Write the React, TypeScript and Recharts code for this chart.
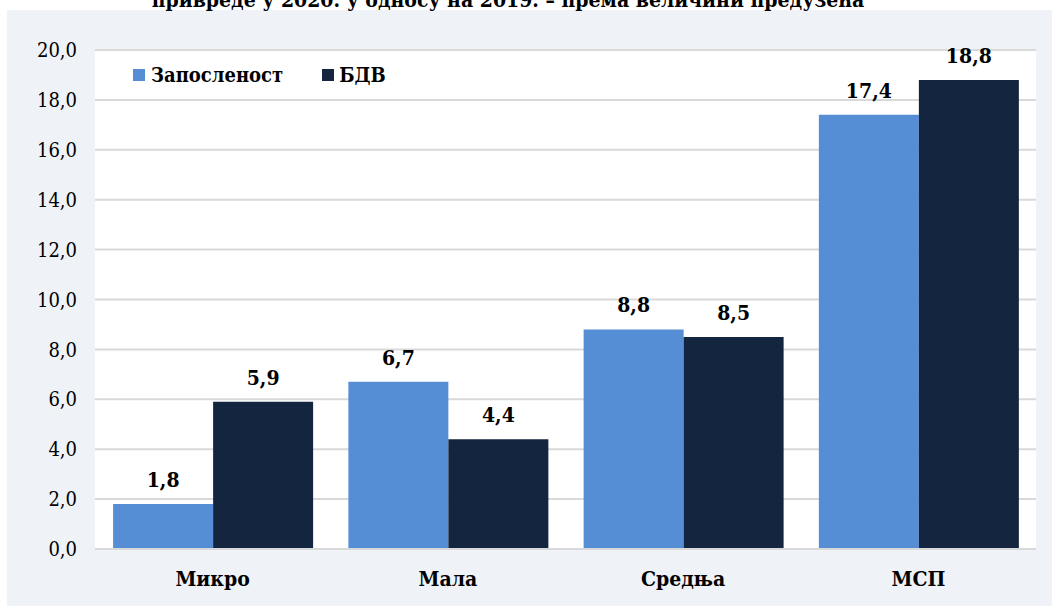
import React from 'react';
import { BarChart, Bar, XAxis, YAxis, CartesianGrid, LabelList } from 'recharts';

const categories = ['Микро', 'Мала', 'Средња', 'МСП'];
const zaposlenost = [1.8, 6.7, 8.8, 17.4];
const bdv = [5.9, 4.4, 8.5, 18.8];
const yTicks = [0, 2, 4, 6, 8, 10, 12, 14, 16, 18, 20];
const seriesNames = ['Запосленост', 'БДВ'];
const titleText = 'привреде у 2020. у односу на 2019. – према величини предузећа';

const data = categories.map((c, i) => ({ name: c, z: zaposlenost[i], b: bdv[i] }));

const BLUE = '#558ED5';
const NAVY = '#13253F';
const FONT = "'DejaVu Serif Condensed', 'DejaVu Serif', serif";

const fmt = (v: number) => v.toFixed(1).replace('.', ',');

export default function App() {
  return (
    <div style={{ position: 'absolute', left: 0, top: 0, width: 1052, height: 606, background: '#fff', overflow: 'hidden', fontFamily: FONT }}>
      <div style={{ position: 'absolute', left: 7, top: 10, width: 1045, height: 596, background: '#EFF3F8' }} />
      <div style={{ position: 'absolute', left: 0, top: 0 }}>
        <BarChart
          width={1052}
          height={606}
          data={data}
          margin={{ top: 50, right: 16, bottom: 17, left: 10 }}
          barCategoryGap="7.7%"
          barGap={0}
          style={{ fontFamily: FONT }}
        >
          <CartesianGrid vertical={false} stroke="#D9D9D9" strokeWidth={2} fill="#FFFFFF" fillOpacity={1} />
          <XAxis
            dataKey="name"
            axisLine={{ stroke: '#D9D9D9', strokeWidth: 2 }}
            tickLine={false}
            tickSize={0}
            tickMargin={22}
            height={40}
            interval={0}
            tick={{ fill: '#000', fontSize: 21, fontWeight: 'bold', fontFamily: FONT }}
          />
          <YAxis
            domain={[0, 20]}
            ticks={yTicks}
            interval={0}
            axisLine={false}
            tickLine={false}
            tickSize={0}
            tickMargin={18}
            width={85}
            tickFormatter={fmt}
            tick={{ fill: '#000', fontSize: 20, fontFamily: FONT }}
          />
          <Bar dataKey="z" name={seriesNames[0]} fill={BLUE} isAnimationActive={false}>
            <LabelList dataKey="z" position="top" offset={17} formatter={(v: any) => fmt(Number(v))} style={{ fill: '#000', fontSize: 21, fontWeight: 'bold', fontFamily: FONT }} />
          </Bar>
          <Bar dataKey="b" name={seriesNames[1]} fill={NAVY} isAnimationActive={false}>
            <LabelList dataKey="b" position="top" offset={17} formatter={(v: any) => fmt(Number(v))} style={{ fill: '#000', fontSize: 21, fontWeight: 'bold', fontFamily: FONT }} />
          </Bar>
        </BarChart>
      </div>
      <div style={{ position: 'absolute', left: 133, top: 63, display: 'flex', alignItems: 'center', fontFamily: FONT, fontWeight: 'bold', fontSize: 20, color: '#000', lineHeight: '24px', whiteSpace: 'nowrap' }}>
        <span style={{ display: 'inline-block', width: 12, height: 12, background: BLUE, marginRight: 6 }} />
        <span style={{ marginRight: 39 }}>{seriesNames[0]}</span>
        <span style={{ display: 'inline-block', width: 12, height: 12, background: NAVY, marginRight: 5 }} />
        <span>{seriesNames[1]}</span>
      </div>
      <svg width={1052} height={606} style={{ position: 'absolute', left: 0, top: 0, pointerEvents: 'none' }}>
        <text x={508} y={7} textAnchor="middle" fontFamily={FONT} fontWeight="bold" fontSize={21} fill="#000">{titleText}</text>
      </svg>
    </div>
  );
}
